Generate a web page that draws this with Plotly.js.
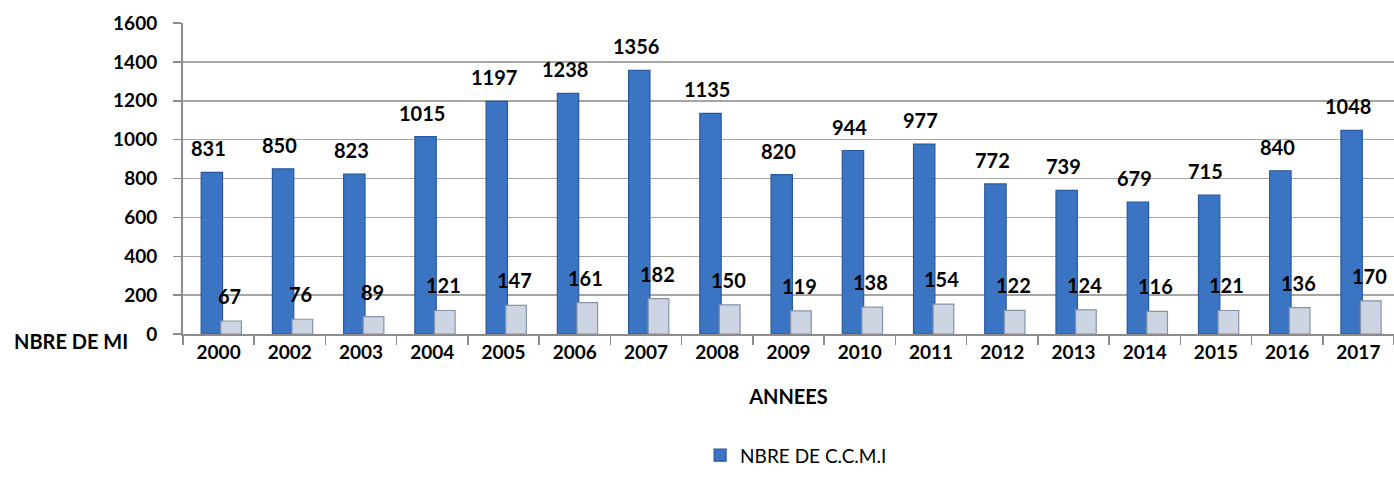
<!DOCTYPE html>
<html>
<head>
<meta charset="utf-8">
<script src="https://cdn.plot.ly/plotly-3.0.1.min.js"></script>
<style>html,body{margin:0;padding:0;background:#fff;}#chart{width:1394px;height:491px;}</style>
</head>
<body>
<div id="chart"></div>
<script>
const years = ["2000","2002","2003","2004","2005","2006","2007","2008","2009","2010","2011","2012","2013","2014","2015","2016","2017"];
const ccmi = [831,850,823,1015,1197,1238,1356,1135,820,944,977,772,739,679,715,840,1048];
const mi = [67,76,89,121,147,161,182,150,119,138,154,122,124,116,121,136,170];
const yTicks = [0,200,400,600,800,1000,1200,1400,1600];

const FONT = "Lato, 'Open Sans', sans-serif";

const traces = [
  {
    type: "bar", name: "NBRE DE C.C.M.I", x: years, y: ccmi,
    offset: -0.245, width: 0.30,
    marker: {color: "#3a74c2", line: {color: "#295a9c", width: 1.2}},
    hoverinfo: "skip", showlegend: true
  },
  {
    type: "bar", name: "NBRE DE MI", x: years, y: mi,
    offset: 0.03, width: 0.29,
    marker: {color: "#cdd5e3", line: {color: "#8593ab", width: 1.2}},
    hoverinfo: "skip", showlegend: false
  }
];

const annotations = [];
years.forEach((yr, i) => {
  annotations.push({x: i, y: ccmi[i], xref: "x", yref: "y", text: String(ccmi[i]),
    showarrow: false, xshift: -10, yshift: 24, yanchor: "middle",
    font: {family: FONT, size: 20, color: "#000", weight: "bold"}});
  annotations.push({x: i, y: mi[i], xref: "x", yref: "y", text: String(mi[i]),
    showarrow: false, xshift: 11, yshift: 25, yanchor: "middle",
    font: {family: FONT, size: 20, color: "#000", weight: "bold"}});
});
annotations.push({x: (12 - 183) / (1394 - 183), y: 0, xref: "paper", yref: "y", text: "NBRE DE MI",
  showarrow: false, xanchor: "left", yanchor: "middle", yshift: -7,
  font: {family: FONT, size: 20, color: "#000", weight: "bold"}});

const layout = {
  width: 1394, height: 491,
  margin: {l: 183, r: 0, t: 23, b: 157},
  paper_bgcolor: "#fff", plot_bgcolor: "#fff",
  barmode: "overlay",
  font: {family: FONT, color: "#000"},
  xaxis: {
    type: "category", showgrid: false,
    showline: true, linecolor: "#8c8c8c", linewidth: 2,
    ticks: "outside", tickson: "boundaries", ticklen: 9, tickcolor: "#8c8c8c", tickwidth: 1.5,
    tickfont: {family: FONT, size: 19, color: "#000", weight: "bold"}, tickangle: 0,
    title: {text: "ANNEES", standoff: 28, font: {family: FONT, size: 20, color: "#000", weight: "bold"}},
    fixedrange: true
  },
  yaxis: {
    range: [0, 1600], tickvals: yTicks, ticktext: yTicks.map(String),
    showgrid: true, gridcolor: "#a6a6a6", gridwidth: 1.5,
    showline: true, linecolor: "#8c8c8c", linewidth: 2,
    ticks: "outside", ticklen: 8, tickcolor: "#8c8c8c", tickwidth: 1.5,
    ticklabelstandoff: 12,
    tickfont: {family: FONT, size: 19, color: "#000", weight: "bold"},
    zeroline: false, fixedrange: true
  },
  showlegend: true,
  legend: {
    orientation: "h", x: 0.427, xanchor: "left", y: -0.39, yanchor: "middle",
    font: {family: FONT, size: 19, color: "#000"},
    itemwidth: 30, bgcolor: "rgba(0,0,0,0)"
  },
  annotations: annotations
};

Plotly.newPlot("chart", traces, layout, {displayModeBar: false, staticPlot: true});
</script>
</body>
</html>
